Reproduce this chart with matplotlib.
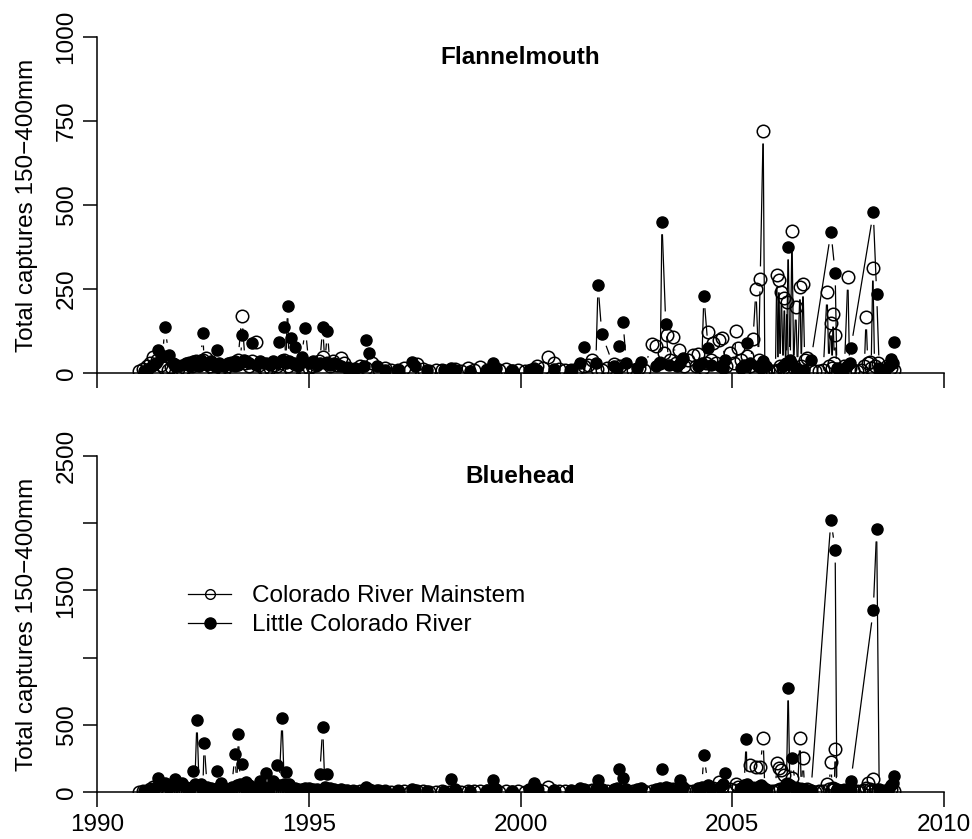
import numpy as np
import matplotlib
matplotlib.use("Agg")
import matplotlib.pyplot as plt
from matplotlib.collections import LineCollection
from matplotlib.lines import Line2D

plt.rcParams['font.family'] = ['Liberation Sans', 'DejaVu Sans']

# Colorado River mainstem sampling dates (open circles)
cr_year = [
    1991.00, 1991.08, 1991.17, 1991.25, 1991.33, 1991.42, 1991.50, 1991.58, 1991.67, 1991.75, 1991.83, 1991.92,
    1992.00, 1992.08, 1992.17, 1992.25, 1992.33, 1992.42, 1992.50, 1992.58, 1992.67, 1992.75, 1992.83, 1992.92,
    1993.00, 1993.08, 1993.17, 1993.25, 1993.33, 1993.42, 1993.50, 1993.58, 1993.67, 1993.75, 1993.83, 1993.92,
    1994.00, 1994.08, 1994.17, 1994.25, 1994.33, 1994.42, 1994.50, 1994.58, 1994.67, 1994.75, 1994.83, 1994.92,
    1995.00, 1995.08, 1995.17, 1995.25, 1995.33, 1995.42, 1995.50, 1995.58, 1995.67, 1995.75, 1995.83, 1995.92,
    1996.05, 1996.20, 1996.35, 1996.50, 1996.65, 1996.80, 1996.95,
    1997.10, 1997.25, 1997.40, 1997.55, 1997.70, 1997.85,
    1998.00, 1998.15, 1998.30, 1998.45, 1998.60, 1998.75, 1998.90,
    1999.05, 1999.20, 1999.35, 1999.50, 1999.65, 1999.80, 1999.95,
    2000.10, 2000.25, 2000.40, 2000.52, 2000.65, 2000.80, 2000.92,
    2001.05, 2001.20, 2001.35, 2001.50, 2001.60, 2001.68, 2001.80, 2001.92,
    2002.05, 2002.20, 2002.35, 2002.50, 2002.65, 2002.80, 2002.92,
    2003.10, 2003.20, 2003.30, 2003.38, 2003.46, 2003.53, 2003.60, 2003.68, 2003.75, 2003.85, 2003.95,
    2004.07, 2004.15, 2004.20, 2004.30, 2004.38, 2004.43, 2004.50, 2004.55, 2004.62, 2004.69, 2004.76, 2004.85, 2004.95,
    2005.05, 2005.09, 2005.14, 2005.20, 2005.28, 2005.35, 2005.42, 2005.49, 2005.56, 2005.62, 2005.66, 2005.73, 2005.77, 2005.85, 2005.95,
    2006.02, 2006.05, 2006.08, 2006.10, 2006.13, 2006.16, 2006.20, 2006.23, 2006.26, 2006.29, 2006.33, 2006.37,
    2006.41, 2006.45, 2006.50, 2006.54, 2006.60, 2006.63, 2006.67, 2006.71, 2006.76, 2006.85, 2006.95,
    2007.05, 2007.15, 2007.24, 2007.28, 2007.33, 2007.36, 2007.38, 2007.41, 2007.43, 2007.47, 2007.55, 2007.65,
    2007.73, 2007.77, 2007.85, 2007.95,
    2008.05, 2008.12, 2008.16, 2008.20, 2008.25, 2008.28, 2008.32, 2008.36, 2008.45, 2008.55, 2008.65, 2008.75, 2008.83,
]

# flannelmouth captures, mainstem
cr_flannel = [
    5, 12, 20, 30, 48, 40, 25, 15, 10, 18, 25, 12,
    10, 15, 30, 22, 35, 28, 40, 45, 20, 12, 22, 15,
    10, 20, 30, 25, 40, 170, 30, 20, 35, 92, 25, 15,
    10, 15, 25, 20, 30, 40, 20, 10, 28, 25, 15, 10,
    15, 20, 25, 35, 47, 30, 20, 35, 25, 44, 30, 15,
    10, 20, 15, 30, 10, 15, 8,
    10, 15, 8, 28, 12, 6,
    8, 10, 5, 12, 6, 15, 8,
    18, 10, 6, 8, 12, 5, 10,
    5, 10, 20, 15, 48, 30, 12,
    10, 8, 15, 20, 25, 38, 12, 10,
    15, 27, 20, 12, 8, 15, 10,
    86, 80, 30, 60, 113, 40, 107, 30, 68, 20, 40,
    53, 20, 57, 15, 30, 122, 40, 89, 30, 98, 103, 20, 60,
    30, 125, 74, 40, 10, 50, 20, 101, 250, 40, 280, 720, 5, 10, 5,
    5, 292, 10, 277, 20, 241, 15, 223, 10, 212, 5, 30,
    423, 15, 196, 10, 256, 20, 265, 40, 45, 10, 5,
    5, 10, 241, 20, 149, 15, 175, 30, 113, 5, 10, 20,
    285, 15, 10, 5,
    10, 20, 167, 30, 33, 15, 312, 20, 30, 10, 20, 15, 10,
]

# bluehead captures, mainstem
cr_bluehead = [
    2, 5, 10, 20, 40, 30, 10, 5, 8, 15, 10, 5,
    5, 10, 20, 8, 15, 10, 25, 12, 8, 5, 10, 6,
    5, 8, 12, 10, 20, 15, 8, 5, 10, 12, 6, 4,
    3, 6, 10, 8, 12, 15, 8, 5, 10, 6, 4, 3,
    4, 6, 8, 10, 12, 8, 6, 10, 8, 6, 4, 3,
    5, 8, 6, 10, 4, 6, 3,
    4, 6, 3, 8, 5, 2,
    3, 4, 2, 6, 3, 5, 4,
    6, 4, 3, 2, 5, 3, 4,
    3, 5, 20, 8, 40, 10, 5,
    4, 3, 6, 8, 5, 12, 5, 4,
    6, 10, 8, 5, 4, 6, 5,
    10, 8, 5, 12, 20, 10, 25, 8, 15, 5, 10,
    8, 5, 12, 6, 10, 20, 15, 30, 12, 74, 40, 10, 25,
    15, 60, 40, 20, 10, 25, 200, 30, 186, 40, 186, 402, 10, 5, 8,
    10, 216, 15, 180, 20, 160, 10, 130, 15, 60, 5, 20,
    104, 10, 30, 15, 402, 20, 253, 15, 20, 5, 3,
    5, 10, 60, 20, 223, 15, 30, 20, 320, 10, 5, 15,
    10, 5, 8, 5,
    5, 15, 30, 67, 20, 10, 97, 15, 8, 5, 10, 20, 5,
]

# Little Colorado River sampling dates (filled circles)
lcr_year = [
    1991.10, 1991.20, 1991.30, 1991.40, 1991.45, 1991.50, 1991.55, 1991.60, 1991.70, 1991.80, 1991.85, 1991.92,
    1992.00, 1992.10, 1992.20, 1992.26, 1992.31, 1992.36, 1992.41, 1992.45, 1992.50, 1992.53, 1992.60, 1992.70,
    1992.78, 1992.84, 1992.88, 1992.92,
    1993.00, 1993.10, 1993.18, 1993.26, 1993.30, 1993.34, 1993.38, 1993.43, 1993.47, 1993.52, 1993.60, 1993.66,
    1993.75, 1993.85, 1993.93,
    1994.00, 1994.08, 1994.15, 1994.24, 1994.30, 1994.37, 1994.42, 1994.46, 1994.50, 1994.53, 1994.58, 1994.63,
    1994.67, 1994.75, 1994.83, 1994.92,
    1995.00, 1995.10, 1995.20, 1995.26, 1995.33, 1995.38, 1995.44, 1995.50, 1995.60, 1995.75, 1995.90,
    1996.10, 1996.30, 1996.35, 1996.43, 1996.60, 1996.80,
    1997.10, 1997.43, 1997.50, 1997.80,
    1998.20, 1998.36, 1998.45, 1998.80,
    1999.20, 1999.34, 1999.42, 1999.80,
    2000.20, 2000.32, 2000.40, 2000.80,
    2001.20, 2001.40, 2001.50, 2001.78, 2001.83, 2001.92,
    2002.20, 2002.28, 2002.33, 2002.42, 2002.50, 2002.75, 2002.85,
    2003.20, 2003.30, 2003.34, 2003.43, 2003.50, 2003.70, 2003.77, 2003.84,
    2004.20, 2004.28, 2004.33, 2004.43, 2004.50, 2004.70, 2004.78, 2004.83,
    2005.20, 2005.28, 2005.33, 2005.35, 2005.42, 2005.60, 2005.68, 2005.73, 2005.80,
    2006.20, 2006.28, 2006.32, 2006.36, 2006.41, 2006.50, 2006.70, 2006.86,
    2007.33, 2007.43, 2007.47, 2007.60, 2007.70, 2007.78, 2007.80,
    2008.33, 2008.41, 2008.47, 2008.60, 2008.70, 2008.75, 2008.80, 2008.82,
]

lcr_flannel = [
    5, 12, 20, 30, 68, 55, 50, 137, 53, 30, 25, 20,
    25, 30, 20, 35, 25, 30, 20, 40, 119, 30, 25, 35,
    20, 68, 30, 25,
    20, 30, 25, 35, 30, 25, 30, 113, 40, 35, 30, 89,
    25, 35, 30,
    30, 25, 35, 30, 92, 40, 137, 30, 200, 35, 104, 30,
    77, 25, 48, 134,
    30, 35, 25, 30, 137, 30, 125, 25, 30, 20, 15,
    15, 20, 98, 59, 20, 10,
    10, 33, 20, 8,
    8, 15, 10, 5,
    10, 30, 15, 8,
    8, 15, 10, 12,
    10, 30, 78, 30, 262, 116,
    20, 15, 80, 152, 30, 15, 32,
    20, 30, 450, 146, 25, 20, 30, 45,
    20, 30, 230, 74, 25, 20, 15, 38,
    15, 25, 20, 89, 30, 20, 15, 35, 20,
    20, 30, 375, 40, 27, 15, 10, 40,
    420, 298, 15, 10, 20, 30, 74,
    478, 236, 15, 10, 20, 42, 30, 93,
]

lcr_bluehead = [
    5, 10, 20, 40, 104, 60, 50, 70, 40, 55, 97, 50,
    65, 40, 30, 156, 60, 536, 50, 60, 30, 365, 40, 30,
    20, 156, 40, 67,
    30, 20, 40, 283, 50, 432, 60, 208, 40, 74, 50, 40,
    30, 82, 40,
    141, 40, 82, 201, 50, 551, 60, 149, 40, 60, 30, 20,
    30, 25, 20, 30,
    30, 25, 20, 134, 484, 40, 134, 30, 25, 20, 15,
    10, 15, 40, 25, 15, 10,
    8, 20, 15, 5,
    10, 97, 20, 8,
    15, 89, 20, 10,
    20, 67, 25, 15,
    15, 30, 20, 25, 89, 20,
    20, 30, 171, 104, 25, 20, 30,
    25, 30, 171, 40, 30, 25, 89, 40,
    30, 40, 275, 50, 30, 40, 60, 141,
    30, 50, 394, 60, 40, 30, 50, 40, 20,
    30, 60, 774, 50, 253, 30, 20, 15,
    2024, 1800, 20, 15, 10, 30, 82,
    1354, 1957, 20, 10, 30, 50, 67, 119,
]

panels = [
    ("Flannelmouth", cr_flannel, lcr_flannel, 1000, [0, 250, 500, 750, 1000],
     ["0", "250", "500", "750", "1000"]),
    ("Bluehead", cr_bluehead, lcr_bluehead, 2500, [0, 500, 1000, 1500, 2000, 2500],
     ["0", "500", "", "1500", "", "2500"]),
]

FS = 17.5
GAP = 12.5  # pixels between point centre and line end (R type="b")


def gapped_line(ax, xs, ys, gap):
    # R style "b" lines: segments stop short of each point
    pts = ax.transData.transform(np.column_stack([xs, ys]))
    inv = ax.transData.inverted()
    segs = []
    for p, q in zip(pts[:-1], pts[1:]):
        d = q - p
        L = np.hypot(d[0], d[1])
        if L <= 2 * gap:
            continue
        u = d / L
        segs.append(inv.transform(np.array([p + u * gap, q - u * gap])))
    ax.add_collection(LineCollection(segs, colors="black", linewidths=0.9, zorder=2))


fig = plt.figure(figsize=(9.72, 8.39), dpi=100)
tops = [37, 456]
for i, (name, cr_vals, lcr_vals, ymax, yt, ytl) in enumerate(panels):
    ax = fig.add_axes([97 / 972, 1 - (tops[i] + 336) / 839, 847 / 972, 336 / 839])
    ax.set_xlim(1990, 2010)
    ax.set_ylim(0, ymax)
    for s in ["top", "right"]:
        ax.spines[s].set_visible(False)
    for s in ["left", "bottom"]:
        ax.spines[s].set_linewidth(1.1)

    gapped_line(ax, cr_year, cr_vals, GAP)
    ax.plot(cr_year, cr_vals, ls="none", marker="o", ms=9, mfc="none", mec="black", mew=1.1, zorder=3)
    gapped_line(ax, lcr_year, lcr_vals, GAP)
    ax.plot(lcr_year, lcr_vals, ls="none", marker="o", ms=8, mfc="black", mec="black", zorder=4)

    ax.set_yticks(yt)
    ax.set_yticklabels(ytl)
    ax.set_xticks([1990, 1995, 2000, 2005, 2010])
    if i == 0:
        ax.set_xticklabels([])
    ax.tick_params(axis="y", labelrotation=90, length=10, width=1.1, pad=4, labelsize=FS)
    ax.tick_params(axis="x", length=11, width=1.1, pad=5, labelsize=FS)
    for lab in ax.get_yticklabels():
        lab.set_va("center")

    ax.set_ylabel("Total captures 150\u2212400mm", fontsize=FS)
    ax.yaxis.set_label_coords(-0.07, 0.5)
    ax.text(0.5, 0.94, name, transform=ax.transAxes, ha="center", va="center",
            fontsize=FS, fontweight="bold")

    if i == 1:
        handles = [
            Line2D([], [], color="black", lw=0.9, marker="o", ms=7, mfc="none", mec="black"),
            Line2D([], [], color="black", lw=0.9, marker="o", ms=8, mfc="black", mec="black"),
        ]
        ax.legend(handles, ["Colorado River Mainstem", "Little Colorado River"],
                  loc="upper left", bbox_to_anchor=(0.107, 0.615), frameon=False,
                  fontsize=FS, borderpad=0, borderaxespad=0, handlelength=1.8,
                  handletextpad=0.85, labelspacing=0.28)

fig.savefig("out.png", dpi=100)
